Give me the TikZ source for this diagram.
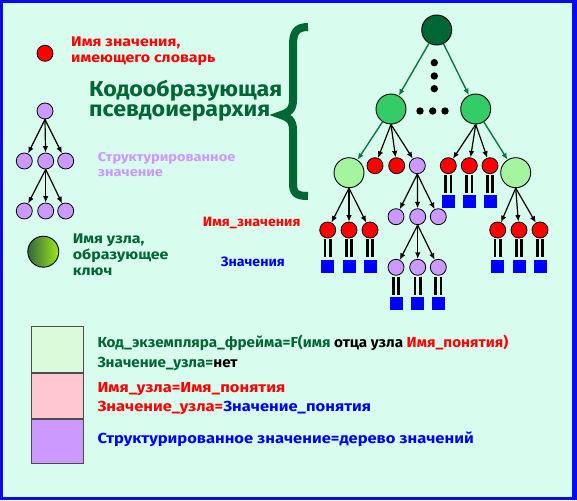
\documentclass[tikz,border=0pt]{standalone}
\usepackage{fontspec}
\setmainfont{Fira Sans}
\newfontfamily\legfont[FakeStretch=1.05]{Fira Sans}
\newfontfamily\widefont[FakeStretch=1.14]{Fira Sans}
\newfontfamily\titlefont[FakeStretch=1.08]{Fira Sans}
\usetikzlibrary{arrows.meta, positioning}
\definecolor{bg}{HTML}{D8FCEE}
\definecolor{frameblue}{HTML}{0A0AF0}
\definecolor{dkgreen}{HTML}{006633}
\definecolor{arrgreen}{HTML}{087840}
\definecolor{midgreen}{HTML}{33CC66}
\definecolor{ltgreen}{HTML}{A4F4A0}
\definecolor{lilac}{HTML}{CC99FF}
\definecolor{boxgreen}{HTML}{DAFADA}
\definecolor{boxpink}{HTML}{FFC8D0}
\definecolor{keydark}{HTML}{35683F}
\definecolor{keylight}{HTML}{9AE81A}

\begin{document}
\begin{tikzpicture}[x=1pt, y=-1pt,
    dict/.style={circle, draw, line width=0.8pt, fill=red, minimum size=16pt, inner sep=0pt},
    struct/.style={dict, fill=lilac},
    key/.style={circle, draw, line width=0.9pt, minimum size=30pt, inner sep=0pt},
    val/.style={fill=blue, minimum size=13pt, inner sep=0pt},
    arr/.style={-{Latex[length=6.5pt, width=5.5pt]}, line width=1.2pt},
    garr/.style={arr, arrgreen, line width=1.4pt},
    bars/.style={draw=black, line width=2.6pt, double=bg, double distance=2.6pt, shorten <=1pt, shorten >=2pt},
    txt/.style={anchor=base west, inner sep=0pt, align=left, font=\widefont\bfseries\fontsize{14}{15.6}\selectfont},
    legtxt/.style={txt, font=\legfont\bfseries\fontsize{14.5}{19.5}\selectfont},
    legbox/.style={draw=black!70, line width=0.9pt, minimum width=52pt, anchor=north, inner sep=0pt}
]
% frame
\fill[frameblue] (0,0) rectangle (577,500);
\fill[bg] (3,3) rectangle (572,497);

% key items on the left
\node[dict] (dictkey) at (45,53.3) {};
\node[txt, red] (dicttxt) at (71,62.3) {Имя значения,\\имеющего словарь};

\node[txt, dkgreen, font=\titlefont\bfseries\fontsize{21.5}{20.7}\selectfont] (title) at (89,116.7) {Кодообразующая\\псевдоиерархия};
\draw[dkgreen, line width=8pt] (308,27) .. controls (296,27) and (293,33) .. (293,45) -- (293,100)
    .. controls (293,110) and (288,113) .. (281,115) .. controls (288,117) and (293,120) .. (293,130)
    -- (293,183) .. controls (293,193) and (296,196) .. (308,196);

\node[struct] (sk0) at (45,111) {};
\node[struct] (sk1) at (24.3,161) {};
\node[struct] (sk2) at (45.7,161) {};
\node[struct] (sk3) at (65.7,161) {};
\node[struct] (sk4) at (24.3,211) {};
\node[struct] (sk5) at (45.7,211) {};
\node[struct] (sk6) at (65.7,211) {};
\draw[arr] (sk0.south) -- (sk1);
\draw[arr] (sk0.south) -- (sk2);
\draw[arr] (sk0.south) -- (sk3);
\draw[arr] (sk2.south) -- (sk4);
\draw[arr] (sk2.south) -- (sk5);
\draw[arr] (sk2.south) -- (sk6);
\node[txt, lilac, font=\widefont\bfseries\fontsize{12.8}{15}\selectfont] (structtxt) at (97.7,176.7) {Структурированное\\значение};

\node[key, left color=keydark, right color=keylight, minimum size=31pt] (gradkey) at (43.3,251.7) {};
\node[txt, dkgreen, font=\widefont\bfseries\fontsize{14}{15.9}\selectfont] (keytxt) at (72.7,275) {Имя узла,\\образующее\\ключ};

\node[txt, red, font=\legfont\bfseries\fontsize{13.5}{14}\selectfont] (nametxt) at (202.7,226.7) {Имя\_значения};
\node[txt, blue, font=\legfont\bfseries\fontsize{13.5}{14}\selectfont] (valtxt) at (220.7,266.7) {Значения};

% pseudo-hierarchy tree
\node[key, fill=dkgreen] (root) at (436.7,30) {};
\node[key, fill=midgreen] (l2a) at (391,109) {};
\node[key, fill=midgreen] (l2b) at (475.7,109) {};
\foreach \y in {62.7,76,88.7} \fill (434.3,\y) circle (3.7);
\foreach \x in {420,432.7,445} \fill (\x,111) circle (3.7);
\draw[garr] (root) -- (l2a);
\draw[garr] (root) -- (l2b);

\node[key, fill=ltgreen] (lga) at (349,172.7) {};
\node[key, fill=ltgreen] (lgb) at (515.7,172.7) {};
\node[dict] (ra1) at (375,165.7) {};
\node[dict] (ra2) at (396.7,165.7) {};
\node[struct] (pa) at (417.3,165.7) {};
\node[dict] (rb1) at (448.3,165.7) {};
\node[dict] (rb2) at (469.3,165.7) {};
\node[dict] (rb3) at (490,165.7) {};
\draw[garr] (l2a) -- (lga);
\draw[arr] (l2a.south) -- (ra1);
\draw[arr] (l2a.south) -- (ra2);
\draw[arr] (l2a.south) -- (pa);
\draw[arr] (l2b.south) -- (rb1);
\draw[arr] (l2b.south) -- (rb2);
\draw[arr] (l2b.south) -- (rb3);
\draw[garr] (l2b) -- (lgb);

\node[dict] (rc1) at (327.7,230) {};
\node[dict] (rc2) at (349,230) {};
\node[dict] (rc3) at (370,230) {};
\node[dict] (rd1) at (497.7,230) {};
\node[dict] (rd2) at (519,230) {};
\node[dict] (rd3) at (540,230) {};
\draw[arr] (lga.south) -- (rc1);
\draw[arr] (lga.south) -- (rc2);
\draw[arr] (lga.south) -- (rc3);
\draw[arr] (lgb.south) -- (rd1);
\draw[arr] (lgb.south) -- (rd2);
\draw[arr] (lgb.south) -- (rd3);

\node[struct] (pb1) at (396,216.7) {};
\node[struct] (pb2) at (417.7,216.7) {};
\node[struct] (pb3) at (438.3,216.7) {};
\node[struct] (pc1) at (396,267.3) {};
\node[struct] (pc2) at (417.7,267.3) {};
\node[struct] (pc3) at (438.3,267.3) {};
\draw[arr] (pa.south) -- (pb1);
\draw[arr] (pa.south) -- (pb2);
\draw[arr] (pa.south) -- (pb3);
\draw[arr] (pb2.south) -- (pc1);
\draw[arr] (pb2.south) -- (pc2);
\draw[arr] (pb2.south) -- (pc3);

% values under the named nodes
\node[val, below=21pt of rb1] (vb1) {};
\node[val, below=21pt of rb2] (vb2) {};
\node[val, below=21pt of rb3] (vb3) {};
\node[val, below=21pt of rc1] (vc1) {};
\node[val, below=21pt of rc2] (vc2) {};
\node[val, below=21pt of rc3] (vc3) {};
\node[val, below=21pt of rd1] (vd1) {};
\node[val, below=21pt of rd2] (vd2) {};
\node[val, below=21pt of rd3] (vd3) {};
\node[val, below=21pt of pc1] (ve1) {};
\node[val, below=21pt of pc2] (ve2) {};
\node[val, below=21pt of pc3] (ve3) {};
\draw[bars] (rb1) -- (vb1);
\draw[bars] (rb2) -- (vb2);
\draw[bars] (rb3) -- (vb3);
\draw[bars] (rc1) -- (vc1);
\draw[bars] (rc2) -- (vc2);
\draw[bars] (rc3) -- (vc3);
\draw[bars] (rd1) -- (vd1);
\draw[bars] (rd2) -- (vd2);
\draw[bars] (rd3) -- (vd3);
\draw[bars] (pc1) -- (ve1);
\draw[bars] (pc2) -- (ve2);
\draw[bars] (pc3) -- (ve3);

% legend at the bottom
\node[legbox, fill=boxgreen, minimum height=46pt] (boxa) at (57.3,325.7) {};
\node[legbox, fill=boxpink, minimum height=45pt, below=0pt of boxa] (boxb) {};
\node[legbox, fill=lilac, minimum height=44.3pt, below=0pt of boxb] (boxc) {};
\node[legtxt, font=\legfont\bfseries\fontsize{14.5}{19.3}\selectfont] (texta) at (97.3,367)
    {\textcolor{dkgreen}{Код\_экземпляра\_фрейма=F(имя} отца узла \textcolor{red}{Имя\_понятия)}\\
     \textcolor{dkgreen}{Значение\_узла=}нет};
\node[legtxt, font=\widefont\bfseries\fontsize{14.5}{19.7}\selectfont, red] (textb) at (97.3,411.7)
    {Имя\_узла=Имя\_понятия\\Значение\_узла=\textcolor{blue}{Значение\_понятия}};
\node[legtxt, font=\widefont\bfseries\fontsize{14.5}{19}\selectfont, blue] (textc) at (97.3,443.3)
    {Структурированное значение=дерево значений};
\end{tikzpicture}
\end{document}
